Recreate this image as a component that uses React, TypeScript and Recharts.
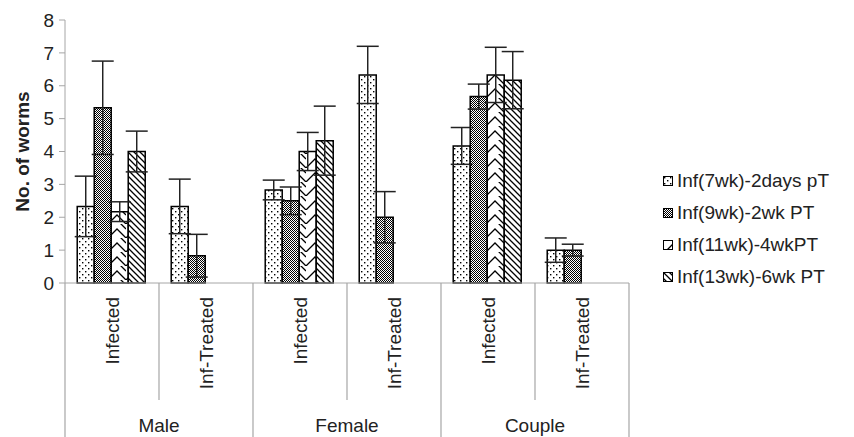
import React from 'react';
import { BarChart, Bar, XAxis, YAxis, ErrorBar } from 'recharts';

const subCategories = ['Infected', 'Inf-Treated', 'Infected', 'Inf-Treated', 'Infected', 'Inf-Treated'];
const groups = ['Male', 'Male', 'Female', 'Female', 'Couple', 'Couple'];
const seriesNames = ['Inf(7wk)-2days pT', 'Inf(9wk)-2wk PT', 'Inf(11wk)-4wkPT', 'Inf(13wk)-6wk PT'];

const inf7 = [2.33, 2.33, 2.83, 6.33, 4.17, 1.0];
const inf7Err = [0.92, 0.83, 0.3, 0.87, 0.56, 0.37];
const inf9 = [5.33, 0.83, 2.5, 2.0, 5.67, 1.0];
const inf9Err = [1.42, 0.65, 0.42, 0.78, 0.38, 0.18];
const inf11 = [2.17, null, 4.0, null, 6.33, null];
const inf11Err = [0.3, null, 0.58, null, 0.84, null];
const inf13 = [4.0, null, 4.33, null, 6.17, null];
const inf13Err = [0.62, null, 1.05, null, 0.87, null];

const yTicks = [0, 1, 2, 3, 4, 5, 6, 7, 8];

const data = subCategories.map((sub, i) => ({
  sub,
  group: groups[i],
  s1: inf7[i],
  e1: inf7Err[i],
  s2: inf9[i],
  e2: inf9Err[i],
  s3: inf11[i],
  e3: inf11Err[i],
  s4: inf13[i],
  e4: inf13Err[i],
}));

const W = 854;
const H = 437;
const M = { top: 20, right: 225, bottom: 0, left: 25 };
const Y_W = 40;
const X_H = 154;
const band = (W - M.left - M.right - Y_W) / subCategories.length;

const FONT = '"Liberation Sans", Arial, Helvetica, sans-serif';
const AXIS = '#a6a6a6';
const TEXT = '#222';
const fills = ['url(#pDots)', 'url(#pCheck)', 'url(#pZig)', 'url(#pDiag)'];

// patterns live in a hidden svg, referenced from the chart
const Patterns = () => (
  <svg width={0} height={0} style={{ position: 'absolute' }}>
    <defs>
      <pattern id="pDots" width={6} height={6} patternUnits="userSpaceOnUse">
        <rect width={6} height={6} fill="#fff" />
        <rect x={1} y={1} width={1.4} height={1.4} fill="#000" />
        <rect x={4} y={4} width={1.4} height={1.4} fill="#000" />
      </pattern>
      <pattern id="pCheck" width={2} height={2} patternUnits="userSpaceOnUse">
        <rect width={2} height={2} fill="#fff" />
        <rect x={0} y={0} width={1} height={1} fill="#000" />
        <rect x={1} y={1} width={1} height={1} fill="#000" />
      </pattern>
      <pattern id="pZig" width={18} height={14} patternUnits="userSpaceOnUse">
        <rect width={18} height={14} fill="#fff" />
        <path d="M0,14 L9,5 L18,14 M-9,5 L0,-4 M9,-4 L18,5" stroke="#000" strokeWidth={1.3} fill="none" />
      </pattern>
      <pattern id="pDiag" width={6} height={6} patternUnits="userSpaceOnUse">
        <rect width={6} height={6} fill="#fff" />
        <path d="M-1,-1 L7,7 M-4,2 L1,7 M5,-1 L7,1" stroke="#000" strokeWidth={1.3} />
      </pattern>
    </defs>
  </svg>
);

const XTick = (props: any) => {
  const { x, y, payload, index } = props;
  const left = x - band / 2;
  const right = x + band / 2;
  const isGroupStart = index % 2 === 0;
  return (
    <g>
      <line x1={left} y1={y} x2={left} y2={isGroupStart ? H : y + 117} stroke={AXIS} strokeWidth={1.2} />
      {index === subCategories.length - 1 && (
        <line x1={right} y1={y} x2={right} y2={H} stroke={AXIS} strokeWidth={1.2} />
      )}
      <text
        x={x}
        y={y + 14}
        transform={`rotate(-90 ${x} ${y + 14})`}
        textAnchor="end"
        dominantBaseline="central"
        fontSize={19}
        fontFamily={FONT}
        fill={TEXT}
      >
        {payload.value}
      </text>
      {isGroupStart && (
        <text x={right} y={y + 149} textAnchor="middle" fontSize={19} fontFamily={FONT} fill={TEXT}>
          {groups[index]}
        </text>
      )}
    </g>
  );
};

const LegendBox = () => (
  <div style={{ position: 'absolute', left: 663, top: 165, fontFamily: FONT, fontSize: 19, color: TEXT }}>
    {seriesNames.map((name, i) => (
      <div key={name} style={{ display: 'flex', alignItems: 'center', height: 32 }}>
        <svg width={10} height={10} style={{ marginRight: 4 }}>
          <rect x={0.5} y={0.5} width={9} height={9} fill={fills[i]} stroke="#000" strokeWidth={1} />
        </svg>
        <span>{name}</span>
      </div>
    ))}
  </div>
);

export default function App() {
  return (
    <div style={{ position: 'absolute', left: 0, top: 0, width: W, height: H, background: '#fff' }}>
      <Patterns />
      <BarChart width={W} height={H} data={data} margin={M} barCategoryGap="13%" barGap={0}>
        <XAxis
          dataKey="sub"
          interval={0}
          height={X_H}
          stroke={AXIS}
          tickLine={false}
          tickSize={0}
          tickMargin={0}
          tick={<XTick />}
        />
        <YAxis
          domain={[0, 8]}
          ticks={yTicks}
          width={Y_W}
          stroke={AXIS}
          tickSize={6}
          tickMargin={5}
          tick={{ fill: TEXT, fontSize: 19, fontFamily: FONT }}
          label={{
            value: 'No. of worms',
            angle: -90,
            position: 'center',
            dx: -23,
            style: { fontWeight: 'bold', fontSize: 19, fontFamily: FONT, fill: TEXT },
          }}
        />
        {['s1', 's2', 's3', 's4'].map((key, i) => (
          <Bar
            key={key}
            dataKey={key}
            name={seriesNames[i]}
            fill={fills[i]}
            stroke="#000"
            strokeWidth={1.5}
            isAnimationActive={false}
          >
            <ErrorBar dataKey={`e${i + 1}`} width={11} stroke={TEXT} strokeWidth={1.5} />
          </Bar>
        ))}
      </BarChart>
      <LegendBox />
    </div>
  );
}
